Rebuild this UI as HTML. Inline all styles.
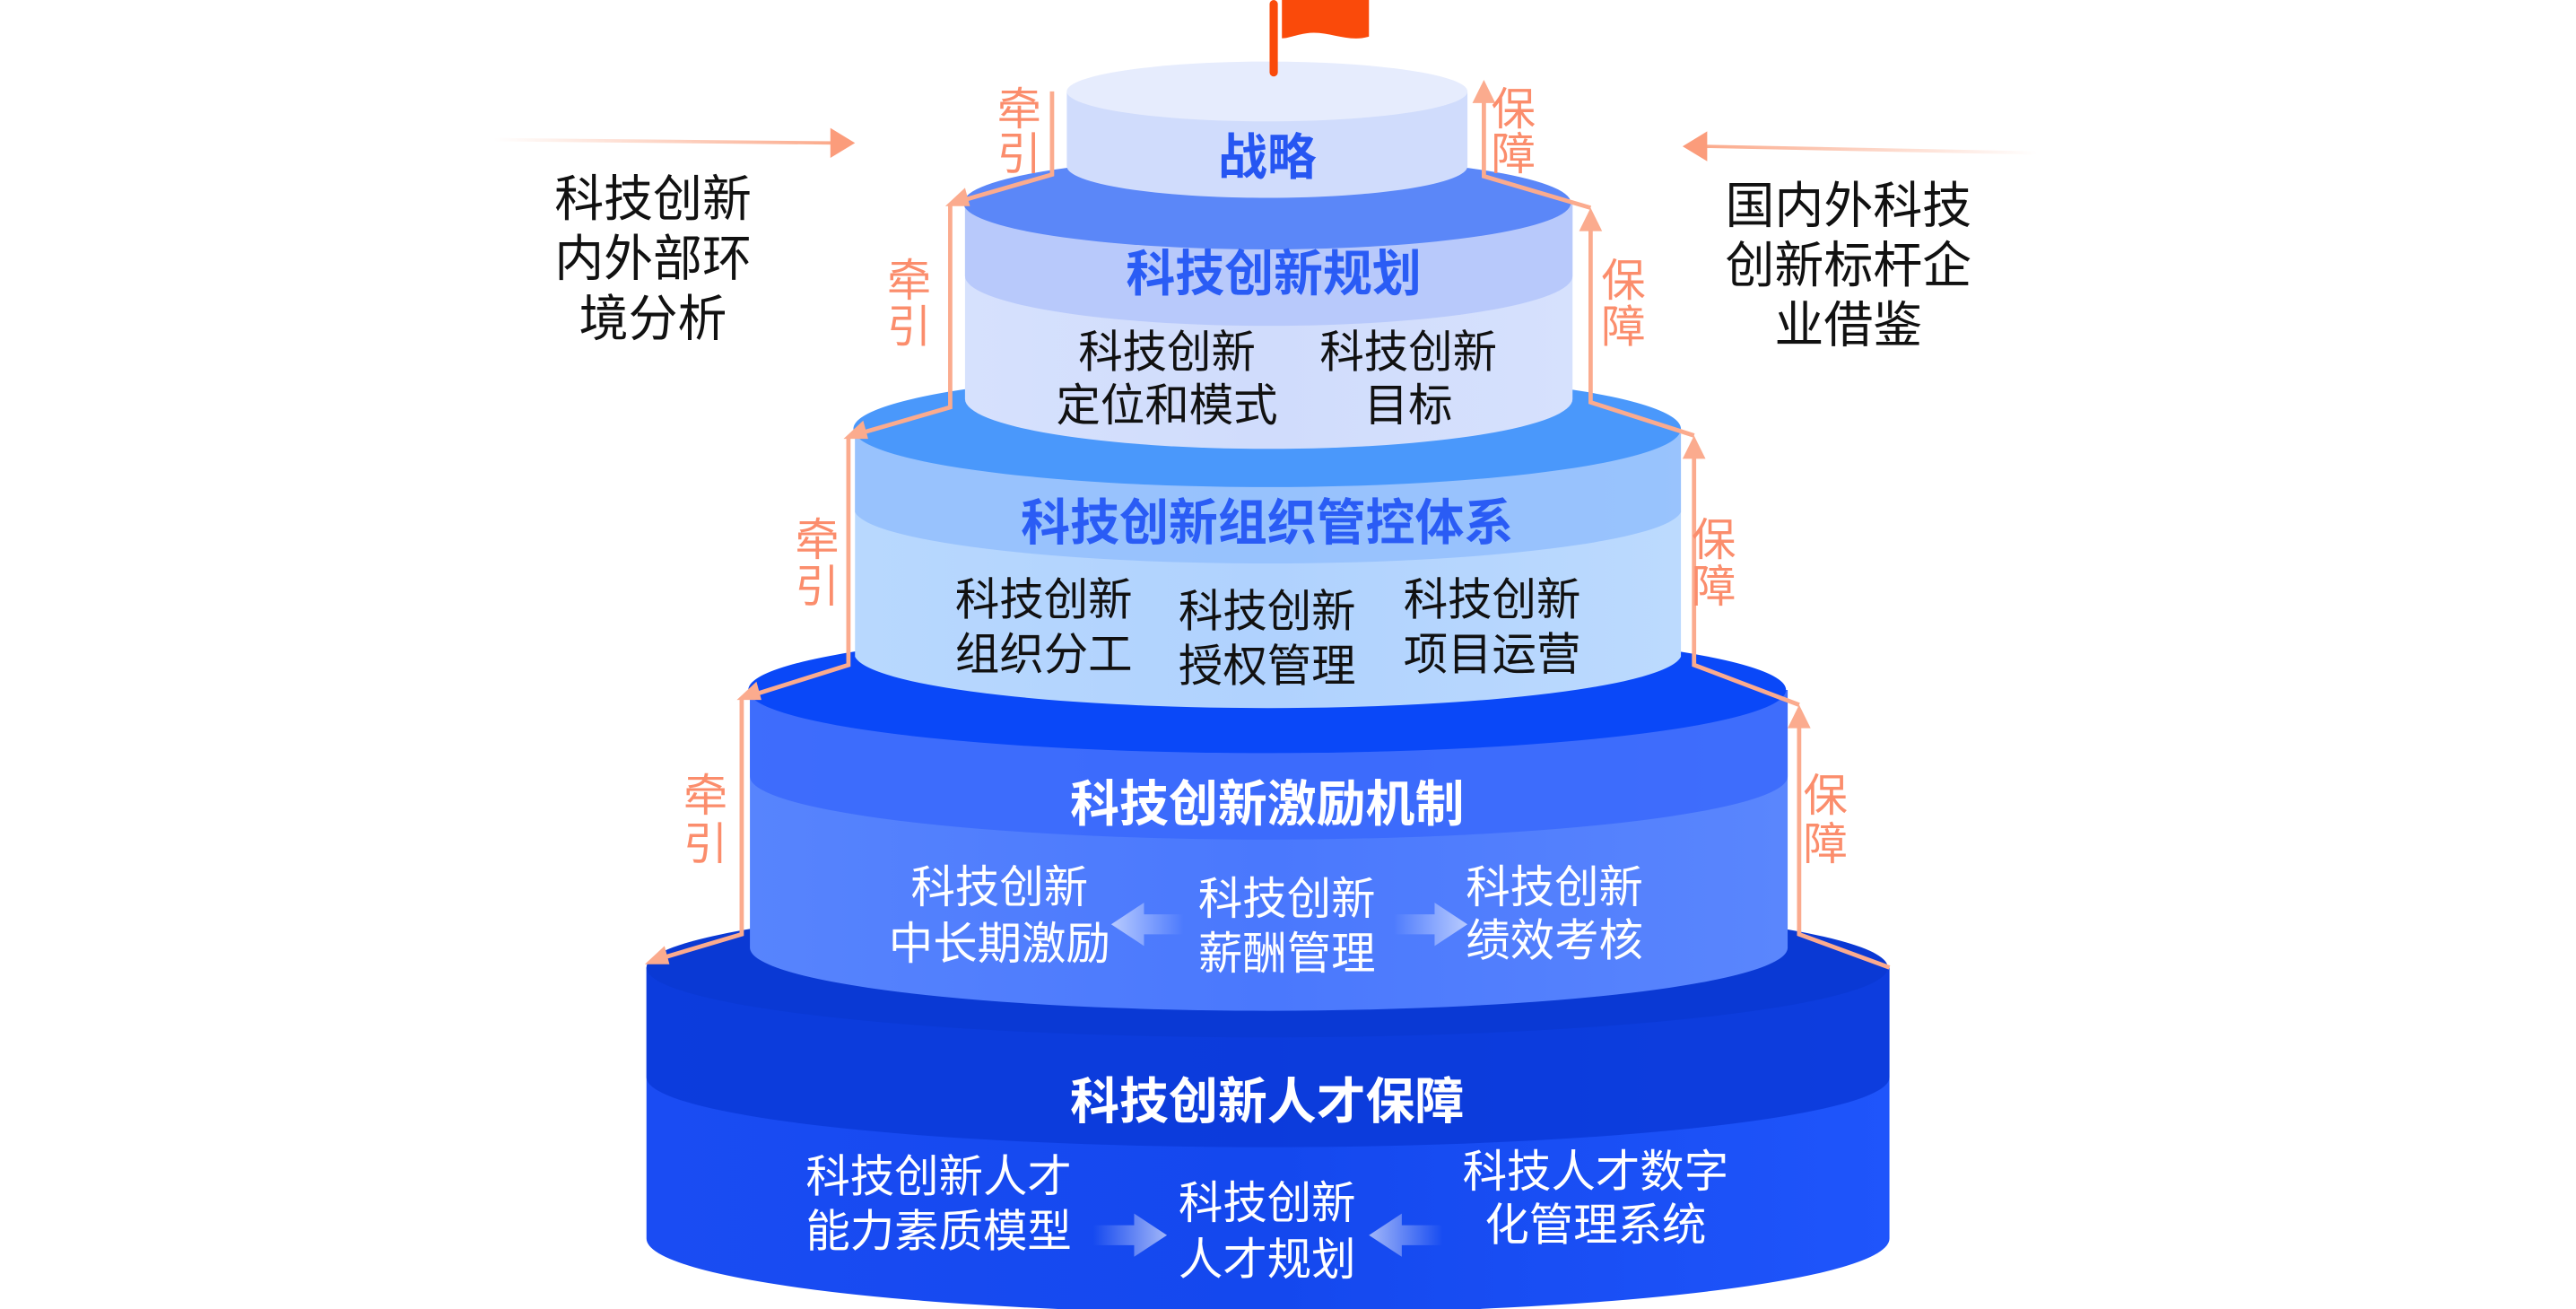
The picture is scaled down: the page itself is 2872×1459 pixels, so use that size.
<!DOCTYPE html>
<html><head><meta charset="utf-8"><style>
html,body{margin:0;padding:0;background:#fff;}
svg{display:block;}
text{font-family:"Liberation Sans","Noto Sans CJK SC",sans-serif;}
</style></head><body>
<svg width="2872" height="1459" viewBox="0 0 1550 787.4" xmlns="http://www.w3.org/2000/svg">
<defs>
<linearGradient id="g5" x1="0" x2="1"><stop offset="0" stop-color="#1a4cf3"/><stop offset="0.5" stop-color="#1448ee"/><stop offset="1" stop-color="#1f55fb"/></linearGradient>
<linearGradient id="g4" x1="0" x2="1"><stop offset="0" stop-color="#5784fd"/><stop offset="0.5" stop-color="#4a78fd"/><stop offset="1" stop-color="#5a86fd"/></linearGradient>
<linearGradient id="g3" x1="0" x2="1"><stop offset="0" stop-color="#b8d8fe"/><stop offset="0.5" stop-color="#b0d2fe"/><stop offset="1" stop-color="#bcdafe"/></linearGradient>
<linearGradient id="g2" x1="0" x2="1"><stop offset="0" stop-color="#d6e1fd"/><stop offset="0.5" stop-color="#d0dcfc"/><stop offset="1" stop-color="#d6e1fd"/></linearGradient>
<linearGradient id="ln" x1="0" x2="1"><stop offset="0" stop-color="#fba98a" stop-opacity="0"/><stop offset="1" stop-color="#fba98a"/></linearGradient>
<linearGradient id="lnr" x1="1" x2="0"><stop offset="0" stop-color="#fba98a" stop-opacity="0"/><stop offset="1" stop-color="#fba98a"/></linearGradient>
<linearGradient id="arR" x1="0" x2="1"><stop offset="0" stop-color="#ffffff" stop-opacity="0"/><stop offset="1" stop-color="#ffffff" stop-opacity="0.6"/></linearGradient>
<linearGradient id="arL" x1="1" x2="0"><stop offset="0" stop-color="#ffffff" stop-opacity="0"/><stop offset="1" stop-color="#ffffff" stop-opacity="0.6"/></linearGradient>
</defs>
<g transform="matrix(0.988 0 0 1 0.7 0)">
<line x1="300" y1="84" x2="508" y2="86" stroke="url(#ln)" stroke-width="2"/>
<polygon points="520,86 505,77 505,95" fill="#fb9c7b"/>
<line x1="1240" y1="92" x2="1036" y2="88" stroke="url(#lnr)" stroke-width="2"/>
<polygon points="1024,88 1039,79 1039,97" fill="#fb9c7b"/>

<!-- tier5 -->
<path d="M393,582 L393,745 A378,45 0 0 0 1150,745 L1150,582 Z" fill="url(#g5)"/>
<path d="M393,582 L1150,582 L1150,648 A378,42 0 0 1 393,648 Z" fill="#0b3ad8" opacity="0.85"/>
<ellipse cx="771" cy="582" rx="378" ry="42" fill="#0a39d4"/>
<!-- tier4 -->
<path d="M456,415 L456,570 A316,38 0 0 0 1088,570 L1088,415 Z" fill="url(#g4)"/>
<path d="M456,415 L1088,415 L1088,467 A316,38 0 0 1 456,467 Z" fill="#3a69fb" opacity="0.85"/>
<ellipse cx="771" cy="415" rx="316" ry="38" fill="#0a48f8"/>
<!-- tier3 -->
<path d="M520,258 L520,395 A252,33 0 0 0 1023,395 L1023,258 Z" fill="url(#g3)"/>
<path d="M520,258 L1023,258 L1023,308 A252,33 0 0 1 520,308 Z" fill="#95c0fd" opacity="0.9"/>
<ellipse cx="771" cy="258" rx="252" ry="35" fill="#4a98fb"/>
<!-- tier2 -->
<path d="M587,122 L587,240 A185,30 0 0 0 957,240 L957,122 Z" fill="url(#g2)"/>
<path d="M587,122 L957,122 L957,166 A185,30 0 0 1 587,166 Z" fill="#b5c7fb" opacity="0.9"/>
<ellipse cx="771" cy="122" rx="185" ry="28" fill="#5b87f8"/>
<!-- tier1 -->
<path d="M649,55 L649,100 A122,19 0 0 0 893,100 L893,55 Z" fill="#d0dcfc"/>
<ellipse cx="771" cy="55" rx="122" ry="18" fill="#e6ecfd"/>
<rect x="772.5" y="0" width="5" height="46" rx="2.5" fill="#fa4a0a"/>
<path d="M780,0 L833,0 L833,22 C820,26 808,18 795,20 C788,21 784,23 780,23 Z" fill="#fa4a0a"/>

<g stroke="#fbab8e" stroke-width="2.6" fill="none">
<polyline points="640,55 640,105 584,121"/>
<polyline points="578,123 578,245 522,261"/>
<polyline points="516,263 516,400 458,418"/>
<polyline points="451,420 451,562 400,577"/>
</g>
<g fill="#fbab8e">
<polygon points="575,124 587,113 590,124"/>
<polygon points="513,264 525,253 528,264"/>
<polygon points="448,421 460,410 463,421"/>
<polygon points="392,580 404,569 407,580"/>
</g>
<g stroke="#fbab8e" stroke-width="2.6" fill="none">
<polyline points="903,58 903,106 968,125"/>
<polyline points="968,136 968,242 1031,262"/>
<polyline points="1031,273 1031,400 1095,424"/>
<polyline points="1095,436 1095,562 1150,582"/>
</g>
<g fill="#fbab8e">
<polygon points="903,48 896,62 910,62"/>
<polygon points="968,125 961,139 975,139"/>
<polygon points="1031,262 1024,276 1038,276"/>
<polygon points="1095,424 1088,438 1102,438"/>
</g>
<g fill="#fb8d6c" font-size="27" text-anchor="middle">
<text x="620" y="75">牵</text><text x="620" y="102">引</text>
<text x="553" y="178">牵</text><text x="553" y="206">引</text>
<text x="497" y="334">牵</text><text x="497" y="362">引</text>
<text x="429" y="488">牵</text><text x="429" y="517">引</text>
<text x="921" y="75">保</text><text x="921" y="102">障</text>
<text x="988" y="178">保</text><text x="988" y="206">障</text>
<text x="1043" y="334">保</text><text x="1043" y="362">障</text>
<text x="1111" y="488">保</text><text x="1111" y="517">障</text>
</g>

<g fill="#111" font-size="30" text-anchor="middle">
<text x="397" y="130">科技创新</text>
<text x="397" y="166">内外部环</text>
<text x="397" y="202">境分析</text>
<text x="1125" y="134">国内外科技</text>
<text x="1125" y="170">创新标杆企</text>
<text x="1125" y="206">业借鉴</text>
</g>

<g font-weight="bold" font-size="30" text-anchor="middle">
<text x="771" y="105" fill="#2656f2">战略</text>
<text x="775" y="175" fill="#2a5cf5">科技创新规划</text>
<text x="771" y="325" fill="#2a5cf5">科技创新组织管控体系</text>
<text x="771" y="494" fill="#fff">科技创新激励机制</text>
<text x="771" y="673" fill="#fff">科技创新人才保障</text>
</g>
<g font-size="27" text-anchor="middle" fill="#111">
<text x="710" y="221">科技创新</text><text x="710" y="253">定位和模式</text>
<text x="857" y="221">科技创新</text><text x="857" y="253">目标</text>
<text x="635" y="370">科技创新</text><text x="635" y="403">组织分工</text>
<text x="771" y="377">科技创新</text><text x="771" y="410">授权管理</text>
<text x="908" y="370">科技创新</text><text x="908" y="403">项目运营</text>
</g>
<g font-size="27" text-anchor="middle" fill="#fff">
<text x="608" y="543">科技创新</text><text x="608" y="577">中长期激励</text>
<text x="783" y="550">科技创新</text><text x="783" y="583">薪酬管理</text>
<text x="946" y="543">科技创新</text><text x="946" y="575">绩效考核</text>
<text x="571" y="717">科技创新人才</text><text x="571" y="750">能力素质模型</text>
<text x="771" y="733">科技创新</text><text x="771" y="767">人才规划</text>
<text x="971" y="714">科技人才数字</text><text x="971" y="746">化管理系统</text>
</g>
<polygon points="676,556 696,543 696,550 720,550 720,562 696,562 696,569" fill="url(#arL)"/>
<polygon points="893,556 873,543 873,550 848,550 848,562 873,562 873,569" fill="url(#arR)"/>
<polygon points="710,743 690,730 690,737 665,737 665,749 690,749 690,756" fill="url(#arR)"/>
<polygon points="833,743 853,730 853,737 878,737 878,749 853,749 853,756" fill="url(#arL)"/>
</g>
</svg>
</body></html>
